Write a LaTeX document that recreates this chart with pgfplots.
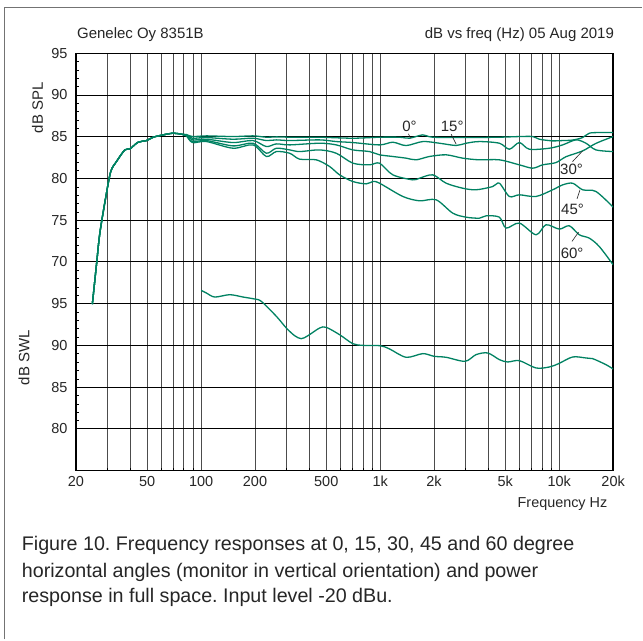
\documentclass[border=0pt]{standalone}
\usepackage{fontspec}
\setmainfont{Liberation Sans}
\usepackage{pgfplots}
\pgfplotsset{compat=1.18}
\definecolor{curve}{RGB}{0,130,98}
\newcommand{\fs}{\fontsize{14.5}{17}\selectfont}
\newcommand{\ft}{\fontsize{15}{18}\selectfont}
\newcommand{\fc}{\fontsize{19.7}{22}\selectfont}
\frenchspacing
\begin{document}
\begin{tikzpicture}[x=1pt,y=1pt]
\fill[white] (0,0) rectangle (643,640);
\draw[black!55, line width=1.2pt] (4.7,0) -- (4.7,632.7) -- (643,632.7);
\begin{axis}[
  at={(76pt,169pt)}, anchor=south west, scale only axis,
  width=537.7pt, height=417.7pt,
  xmode=log, xmin=20, xmax=20000, ymin=45, ymax=95,
  xtick={20,50,100,200,500,1000,2000,5000,10000,20000},
  xticklabels={20,50,100,200,500,1k,2k,5k,10k,20k},
  minor xtick={30,40,60,70,80,90,300,400,600,700,800,900,3000,4000,6000,7000,8000,9000},
  ytick={50,55,...,95},
  yticklabels={80,85,90,95,70,75,80,85,90,95},
  minor y tick num=4,
  xmajorgrids, xminorgrids, ymajorgrids,
  x grid style={black!70, line width=0.5pt},
  y grid style={black, line width=0.9pt},
  tick align=inside, major tick length=0pt, minor tick length=3pt,
  xtick pos=bottom, ytick pos=left,
  tick style={black, line width=0.5pt},
  axis line style={black, line width=1.3pt},
  tick label style={font=\fs, text=black!85},
  xticklabel style={yshift=-2pt},
  yticklabel style={xshift=-5pt},
  cc/.style={curve, line width=1.3pt, smooth, tension=0.5, mark=none},
]
% 0 deg
\addplot[cc] coordinates {(24.7,64.95) (26.1,69.86) (27.2,73.45) (29.4,77.84) (31.3,80.83) (33.7,82.03) (37.5,83.42) (40.0,83.54) (44.5,84.34) (49.6,84.54) (54.0,84.94) (61.4,85.22) (69.8,85.42) (77.7,85.30)
 (82.8,85.26) (89.5,85.02) (107.1,85.10) (150.8,85.02) (195,85.10) (231.4,84.94) (263.2,84.98) (312.4,84.94) (355.1,84.94) (459,84.94) (704,84.82) (992,84.94) (1282,84.94) (1458,84.82) (1731,85.22) (1968,84.94) (3018,84.90) (4632,84.94) (5989,85.02) (7108,85.02) (7744,84.70) (9190,84.50) (10450,84.54) (11880,84.60) (13510,84.90) (14710,85.42) (16730,85.50) (20000,85.50)};
% 15 deg
\addplot[cc] coordinates {(24.7,64.95) (26.1,69.86) (27.2,73.45) (29.4,77.84) (31.3,80.83) (33.7,82.03) (37.5,83.42) (40.0,83.54) (44.5,84.34) (49.6,84.54) (54.0,84.94) (61.4,85.22) (69.8,85.42) (77.7,85.30)
 (82.8,85.22) (89.5,84.82) (107.1,84.90) (150.8,84.70) (195,84.82) (231.4,84.54) (263.2,84.62) (312.4,84.54) (459,84.62) (568.7,84.42) (704,84.30) (992,84.02) (1177,84.34) (1397,83.94) (1731,84.42) (2144,84.22) (2655,83.95) (3018,84.22) (3583,84.42) (4632,84.22) (5267,83.50) (5989,84.30) (6810,83.50) (8802,83.62) (10450,84.02) (12400,84.62) (14100,84.22) (16030,83.42) (20000,83.22)};
% 30 deg
\addplot[cc] coordinates {(24.7,64.95) (26.1,69.86) (27.2,73.45) (29.4,77.84) (31.3,80.83) (33.7,82.03) (37.5,83.42) (40.0,83.54) (44.5,84.34) (49.6,84.54) (54.0,84.94) (61.4,85.22) (69.8,85.42) (77.7,85.30)
 (82.8,85.18) (89.5,84.62) (107.1,84.70) (150.8,84.30) (195,84.54) (231.4,83.82) (263.2,84.14) (312.4,84.02) (459,84.22) (568.7,84.02) (704,83.42) (872,83.22) (992,82.83) (1177,82.63) (1397,82.43) (1589,82.23) (1885,82.63) (2336,82.83) (2892,82.43) (3583,82.23) (4632,82.23) (5989,81.63) (7108,81.23) (8079,81.63) (9590,81.90) (10900,82.60) (13510,83.30) (16030,84.20) (20000,85.02)};
% 45 deg
\addplot[cc] coordinates {(24.7,64.95) (26.1,69.86) (27.2,73.45) (29.4,77.84) (31.3,80.83) (33.7,82.03) (37.5,83.42) (40.0,83.54) (44.5,84.34) (49.6,84.54) (54.0,84.94) (61.4,85.22) (69.8,85.42) (77.7,85.30)
 (82.8,85.10) (89.5,84.42) (107.1,84.54) (150.8,83.90) (195,84.22) (231.4,83.02) (263.2,83.62) (312.4,83.42) (355.1,83.22) (459,83.42) (568.7,83.02) (704,81.83) (872,81.63) (992,81.83) (1177,80.43) (1522,79.83) (1658,80.03) (1968,80.43) (2336,79.43) (2892,78.83) (3433,78.64) (4253,79.03) (4632,79.43) (5267,77.84) (5989,78.04) (7419,77.84) (9190,78.64) (10450,79.23) (11880,79.43) (13510,78.64) (16030,78.44) (20000,76.56)};
% 60 deg
\addplot[cc] coordinates {(24.7,64.95) (26.1,69.86) (27.2,73.45) (29.4,77.84) (31.3,80.83) (33.7,82.03) (37.5,83.42) (40.0,83.54) (44.5,84.34) (49.6,84.54) (54.0,84.94) (61.4,85.22) (69.8,85.42) (77.7,85.30)
 (82.8,85.10) (89.5,84.30) (107.1,84.42) (150.8,83.62) (195,84.02) (231.4,82.63) (263.2,83.22) (312.4,83.02) (355.1,82.31) (439.9,82.23) (522,81.43) (593.6,80.43) (704,79.63) (836,79.35) (910,79.63) (992,79.43) (1338,77.84) (1658,77.32) (2054,77.44) (2544,75.84) (3018,75.36) (3583,75.24) (3904,75.52) (4632,75.36) (5046,74.05) (5989,74.65) (7419,73.25) (8433,74.45) (10010,73.93) (11380,74.33) (12940,73.25) (14710,72.85) (16730,71.85) (20000,69.66)};
% power response (dB SWL minus 30)
\addplot[cc] coordinates {(100,66.59) (107.1,66.27) (119.2,65.79) (144.5,66.07) (171.6,65.79) (199.3,65.55) (217,65.27) (263.2,63.48) (299.2,62.08) (333,61.16) (362.7,60.80) (395.2,61.16) (459,62.08) (500,62.16) (593.6,61.28) (704,60.20) (801,60.00) (1000,59.96) (1128,59.57) (1397,58.57) (1731,59.01) (2000,58.69) (2336,58.57) (2981,58.09) (3433,58.89) (3988,59.09) (4632,58.29) (5155,58.01) (5989,58.17) (7419,57.29) (8802,57.41) (9926,57.81) (11880,58.61) (14100,58.49) (15360,58.41) (18230,57.69) (20000,57.17)};
% angle labels
\node[font=\ft, text=black!85] at (axis cs:1458,86.21) {0°};
\node[font=\ft, text=black!85] at (axis cs:2524,86.21) {15°};
\node[font=\ft, text=black!85] at (axis cs:11720,81.11) {30°};
\node[font=\ft, text=black!85] at (axis cs:11870,76.33) {45°};
\node[font=\ft, text=black!85] at (axis cs:11800,70.98) {60°};
\draw[black!85, line width=0.6pt] (axis cs:1439,85.34) -- (axis cs:1477,84.83);
\draw[black!85, line width=0.6pt] (axis cs:2492,85.30) -- (axis cs:2656,84.11);
\draw[black!85, line width=0.6pt] (axis cs:11870,82.02) -- (axis cs:13500,83.30);
\draw[black!85, line width=0.6pt] (axis cs:12570,77.56) -- (axis cs:13060,78.64);
\draw[black!85, line width=0.6pt] (axis cs:11780,72.45) -- (axis cs:12820,73.57);
\end{axis}
\node[anchor=base west, inner sep=0, font=\ft, text=black!85] at (77,601) {Genelec Oy 8351B};
\node[anchor=base east, inner sep=0, font=\ft, text=black!85] at (614.7,601) {dB vs freq (Hz) 05 Aug 2019};
\node[anchor=east, inner sep=0, font=\fontsize{14.4}{16}\selectfont, text=black!85] at (608,135) {Frequency Hz};
\node[rotate=90, inner sep=0, font=\ft, text=black!85] at (37.5,532) {dB SPL};
\node[rotate=90, inner sep=0, font=\ft, text=black!85] at (24,282) {dB SWL};
\node[anchor=base west, inner sep=0, font=\fc, text=black!85] at (21.7,88.7) {Figure 10. Frequency responses at 0, 15, 30, 45 and 60 degree};
\node[anchor=base west, inner sep=0, font=\fc, text=black!85] at (21.7,62.3) {horizontal angles (monitor in vertical orientation) and power};
\node[anchor=base west, inner sep=0, font=\fc, text=black!85] at (21.7,37.3) {response in full space. Input level -20 dBu.};
\end{tikzpicture}
\end{document}
